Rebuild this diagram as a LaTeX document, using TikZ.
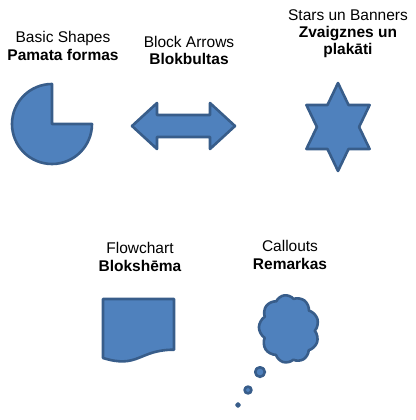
\documentclass[tikz,border=0pt]{standalone}
\usepackage{fontspec}
\setmainfont{Liberation Sans}
\usetikzlibrary{shapes.symbols}
\definecolor{shapefill}{HTML}{4F81BD}
\definecolor{shapeline}{HTML}{385D8A}

\begin{document}
\begin{tikzpicture}[x=1pt,y=-1pt,
  blueshape/.style={draw=shapeline,fill=shapefill,line width=2.6pt,line join=round},
  caption/.style={align=center,anchor=base,inner sep=0pt,
    font=\fontsize{15.5}{17.4}\selectfont}]
\useasboundingbox (0,0) rectangle (415,420);
% labels (anchored on the last line)
\node[caption] (basic) at (63,60) {Basic Shapes\\\textbf{Pamata formas}};
\node[caption] (block) at (189,65) {Block Arrows\\\textbf{Blokbultas}};
\node[caption] (stars) at (348,55) {Stars un Banners\\\textbf{Zvaigznes un}\\\textbf{plakāti}};
\node[caption] (flow) at (140,271) {Flowchart\\\textbf{Blokshēma}};
\node[caption] (call) at (290,269) {Callouts\\\textbf{Remarkas}};
% pie
\draw[blueshape] (52,124) -- (52,84) arc[start angle=270,end angle=0,radius=40] -- cycle;
% left-right arrow
\draw[blueshape] (132,126) -- (157,103) -- (157,115) -- (210,115) -- (210,103)
  -- (235,126) -- (210,149) -- (210,137) -- (157,137) -- (157,149) -- cycle;
% six point star
\draw[blueshape,shift={(338,127)},xscale=0.83] (90:44)
  \foreach \a in {1,...,11}{ -- ({90+30*\a}:{ifthenelse(mod(\a,2)==1,25.4,44)}) } -- cycle;
% document
\draw[blueshape] (103,299) -- (174,299) -- (174,349.7)
  .. controls (138.5,349.7) and (138.5,369) .. (103,358) -- cycle;
% thought cloud
\node[blueshape,cloud,cloud puffs=9,cloud puff arc=115,cloud ignores aspect,
  minimum width=60pt,minimum height=68pt,inner sep=0pt,rotate=8] (cloud) at (289,329) {};
\draw[blueshape] (260,372) circle[radius=4.8];
\draw[blueshape] (248,390) circle[radius=3.4];
\draw[blueshape] (238,405) circle[radius=1.6];
\end{tikzpicture}
\end{document}
